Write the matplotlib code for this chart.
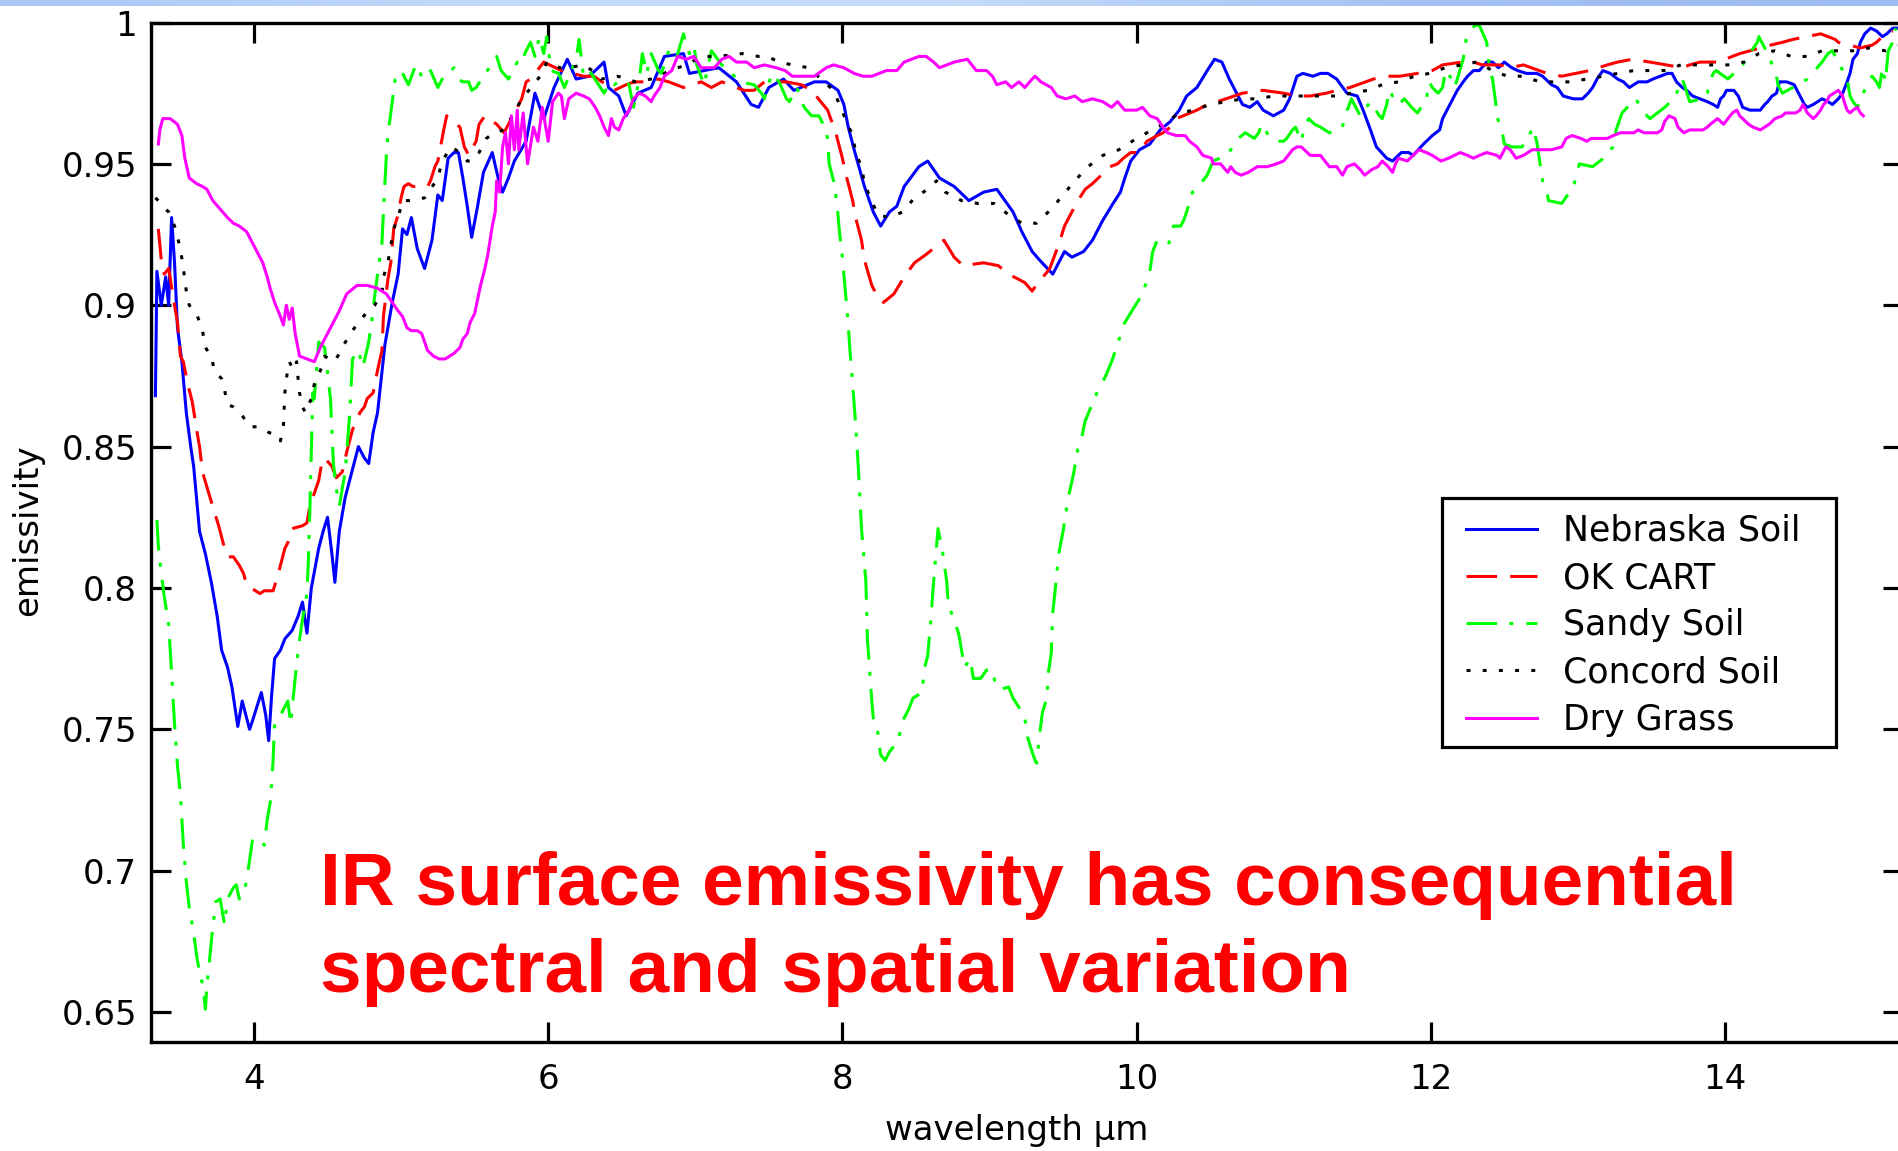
import numpy as np
import matplotlib
matplotlib.use("Agg")
import matplotlib.pyplot as plt
from matplotlib.colors import LinearSegmentedColormap
from matplotlib.patches import Rectangle

# emissivity spectra, (wavelength um, emissivity)
nebraska = [(3.33, 0.868), (3.34, 0.912), (3.37, 0.900), (3.40, 0.910), (3.42, 0.900), (3.44, 0.931),
            (3.46, 0.915), (3.48, 0.892), (3.51, 0.880), (3.54, 0.862), (3.57, 0.850), (3.59, 0.843),
            (3.63, 0.820), (3.67, 0.812), (3.71, 0.802), (3.75, 0.790), (3.78, 0.778), (3.82, 0.772),
            (3.85, 0.765), (3.89, 0.751), (3.92, 0.760), (3.94, 0.756), (3.97, 0.750), (3.99, 0.753),
            (4.02, 0.758), (4.05, 0.763), (4.08, 0.755), (4.10, 0.746), (4.12, 0.762), (4.14, 0.775),
            (4.18, 0.778), (4.21, 0.782), (4.26, 0.785), (4.30, 0.790), (4.33, 0.795), (4.36, 0.784),
            (4.39, 0.800), (4.44, 0.814), (4.47, 0.820), (4.50, 0.825), (4.53, 0.812), (4.55, 0.802),
            (4.58, 0.820), (4.62, 0.832), (4.66, 0.840), (4.71, 0.850), (4.75, 0.846), (4.78, 0.844),
            (4.81, 0.855), (4.84, 0.862), (4.89, 0.886), (4.94, 0.901), (4.98, 0.911), (5.01, 0.927),
            (5.04, 0.925), (5.07, 0.931), (5.11, 0.920), (5.16, 0.913), (5.21, 0.923), (5.25, 0.939),
            (5.28, 0.937), (5.32, 0.952), (5.36, 0.954), (5.39, 0.954), (5.42, 0.945), (5.45, 0.935),
            (5.48, 0.924), (5.52, 0.935), (5.56, 0.947), (5.62, 0.954), (5.66, 0.945), (5.69, 0.940),
            (5.73, 0.945), (5.77, 0.951), (5.85, 0.958), (5.91, 0.975), (5.97, 0.966), (6.04, 0.977),
            (6.13, 0.987), (6.19, 0.980), (6.28, 0.981), (6.38, 0.986), (6.41, 0.977), (6.48, 0.974),
            (6.53, 0.967), (6.61, 0.975), (6.70, 0.977), (6.79, 0.988), (6.92, 0.989), (6.96, 0.982),
            (7.06, 0.983), (7.16, 0.984), (7.28, 0.979), (7.38, 0.971), (7.43, 0.970), (7.50, 0.977),
            (7.60, 0.980), (7.67, 0.976), (7.81, 0.979), (7.89, 0.979), (7.97, 0.976), (8.01, 0.971),
            (8.04, 0.963), (8.08, 0.955), (8.15, 0.942), (8.21, 0.933), (8.26, 0.928), (8.32, 0.933),
            (8.37, 0.935), (8.42, 0.942), (8.52, 0.949), (8.58, 0.951), (8.66, 0.945), (8.76, 0.942),
            (8.86, 0.937), (8.96, 0.940), (9.05, 0.941), (9.16, 0.933), (9.22, 0.926), (9.29, 0.919),
            (9.34, 0.916), (9.43, 0.911), (9.51, 0.919), (9.56, 0.917), (9.64, 0.919), (9.70, 0.923),
            (9.77, 0.930), (9.84, 0.936), (9.89, 0.940), (9.92, 0.945), (9.96, 0.951), (10.02, 0.955),
            (10.09, 0.957), (10.16, 0.962), (10.23, 0.965), (10.29, 0.969), (10.34, 0.974), (10.41, 0.977),
            (10.48, 0.983), (10.53, 0.987), (10.58, 0.986), (10.63, 0.980), (10.67, 0.976), (10.72, 0.971),
            (10.77, 0.970), (10.82, 0.972), (10.86, 0.969), (10.93, 0.967), (11.00, 0.969), (11.04, 0.973),
            (11.09, 0.981), (11.13, 0.982), (11.20, 0.981), (11.25, 0.982), (11.30, 0.982), (11.36, 0.980),
            (11.43, 0.975), (11.50, 0.974), (11.54, 0.969), (11.59, 0.962), (11.63, 0.956), (11.70, 0.952),
            (11.74, 0.951), (11.80, 0.954), (11.85, 0.954), (11.88, 0.953), (11.95, 0.957), (12.01, 0.960),
            (12.06, 0.962), (12.08, 0.966), (12.12, 0.970), (12.18, 0.976), (12.22, 0.979), (12.25, 0.981),
            (12.29, 0.983), (12.33, 0.983), (12.38, 0.986), (12.42, 0.986), (12.46, 0.984), (12.50, 0.986),
            (12.55, 0.984), (12.59, 0.983), (12.65, 0.982), (12.72, 0.982), (12.76, 0.981), (12.80, 0.979),
            (12.82, 0.978), (12.86, 0.977), (12.90, 0.974), (12.97, 0.973), (13.03, 0.973), (13.07, 0.975),
            (13.10, 0.977), (13.13, 0.980), (13.17, 0.983), (13.22, 0.982), (13.27, 0.980), (13.31, 0.979),
            (13.35, 0.977), (13.41, 0.979), (13.47, 0.979), (13.51, 0.980), (13.56, 0.981), (13.61, 0.982),
            (13.64, 0.982), (13.67, 0.979), (13.71, 0.977), (13.74, 0.976), (13.78, 0.974), (13.83, 0.973),
            (13.88, 0.972), (13.92, 0.971), (13.95, 0.970), (13.97, 0.973), (13.99, 0.974), (14.01, 0.976),
            (14.06, 0.976), (14.09, 0.974), (14.12, 0.970), (14.17, 0.969), (14.24, 0.969), (14.27, 0.971),
            (14.29, 0.972), (14.32, 0.974), (14.35, 0.975), (14.37, 0.979), (14.42, 0.979), (14.47, 0.978),
            (14.50, 0.975), (14.52, 0.973), (14.54, 0.971), (14.56, 0.970), (14.60, 0.971), (14.63, 0.972),
            (14.66, 0.973), (14.70, 0.972), (14.73, 0.971), (14.77, 0.973), (14.80, 0.975), (14.83, 0.979),
            (14.85, 0.982), (14.87, 0.987), (14.90, 0.989), (14.92, 0.993), (14.95, 0.996), (14.99, 0.998),
            (15.03, 0.997), (15.07, 0.995), (15.10, 0.996), (15.14, 0.998), (15.17, 0.998)]

ok_cart = [(3.35, 0.927), (3.37, 0.916), (3.39, 0.911), (3.42, 0.913), (3.46, 0.900), (3.48, 0.894),
           (3.50, 0.882), (3.52, 0.880), (3.55, 0.872), (3.58, 0.866), (3.61, 0.856), (3.63, 0.850),
           (3.65, 0.841), (3.69, 0.834), (3.73, 0.827), (3.76, 0.822), (3.80, 0.814), (3.82, 0.811),
           (3.86, 0.811), (3.90, 0.808), (3.93, 0.805), (3.95, 0.801), (4.01, 0.799), (4.04, 0.798),
           (4.07, 0.799), (4.13, 0.799), (4.16, 0.804), (4.21, 0.814), (4.23, 0.816), (4.26, 0.821),
           (4.33, 0.822), (4.36, 0.823), (4.38, 0.829), (4.44, 0.838), (4.46, 0.844), (4.48, 0.846),
           (4.53, 0.843), (4.56, 0.839), (4.60, 0.841), (4.63, 0.848), (4.65, 0.852), (4.67, 0.856),
           (4.72, 0.862), (4.75, 0.864), (4.77, 0.867), (4.81, 0.869), (4.84, 0.877), (4.87, 0.884),
           (4.88, 0.896), (4.91, 0.909), (4.93, 0.915), (4.95, 0.927), (4.98, 0.932), (5.00, 0.938),
           (5.02, 0.942), (5.05, 0.943), (5.08, 0.942), (5.18, 0.942), (5.20, 0.944), (5.23, 0.949),
           (5.25, 0.951), (5.29, 0.962), (5.31, 0.967), (5.40, 0.963), (5.43, 0.956), (5.46, 0.953),
           (5.51, 0.958), (5.53, 0.964), (5.57, 0.967), (5.65, 0.964), (5.70, 0.961), (5.75, 0.966),
           (5.82, 0.973), (5.85, 0.979), (5.88, 0.980), (5.97, 0.986), (6.09, 0.983), (6.24, 0.981),
           (6.31, 0.981), (6.45, 0.976), (6.53, 0.978), (6.59, 0.979), (6.67, 0.979), (6.75, 0.980),
           (6.82, 0.979), (6.92, 0.977), (7.04, 0.979), (7.11, 0.977), (7.18, 0.979), (7.33, 0.976),
           (7.40, 0.976), (7.47, 0.979), (7.62, 0.979), (7.72, 0.978), (7.79, 0.976), (7.90, 0.969),
           (7.92, 0.966), (7.95, 0.962), (8.00, 0.952), (8.02, 0.947), (8.07, 0.937), (8.09, 0.931),
           (8.13, 0.923), (8.15, 0.916), (8.20, 0.907), (8.25, 0.902), (8.28, 0.901), (8.35, 0.904),
           (8.42, 0.910), (8.49, 0.915), (8.57, 0.918), (8.69, 0.923), (8.76, 0.917), (8.82, 0.914),
           (8.96, 0.915), (9.06, 0.914), (9.13, 0.911), (9.24, 0.908), (9.29, 0.905), (9.33, 0.908),
           (9.38, 0.911), (9.41, 0.913), (9.46, 0.920), (9.48, 0.923), (9.51, 0.928), (9.59, 0.936),
           (9.65, 0.941), (9.70, 0.943), (9.82, 0.949), (9.87, 0.950), (9.91, 0.952), (9.96, 0.954),
           (10.02, 0.954), (10.07, 0.958), (10.14, 0.960), (10.18, 0.961), (10.23, 0.963), (10.27, 0.966),
           (10.41, 0.969), (10.48, 0.971), (10.55, 0.972), (10.72, 0.975), (10.86, 0.976), (11.00, 0.975),
           (11.09, 0.974), (11.18, 0.974), (11.29, 0.975), (11.36, 0.976), (11.45, 0.977), (11.61, 0.980),
           (11.70, 0.981), (11.79, 0.981), (11.91, 0.982), (12.01, 0.983), (12.08, 0.985), (12.21, 0.986),
           (12.29, 0.986), (12.35, 0.985), (12.47, 0.985), (12.54, 0.984), (12.63, 0.985), (12.79, 0.982),
           (12.89, 0.981), (13.08, 0.983), (13.20, 0.985), (13.27, 0.986), (13.37, 0.987), (13.49, 0.986),
           (13.71, 0.984), (13.76, 0.985), (13.83, 0.986), (13.98, 0.986), (14.00, 0.987), (14.10, 0.989),
           (14.31, 0.992), (14.39, 0.993), (14.46, 0.994), (14.65, 0.996), (14.75, 0.994), (14.77, 0.993),
           (14.92, 0.991), (15.00, 0.992), (15.03, 0.993), (15.07, 0.995), (15.14, 0.997)]

sandy = [(3.34, 0.824), (3.35, 0.815), (3.37, 0.805), (3.39, 0.797), (3.42, 0.787), (3.44, 0.770),
         (3.46, 0.752), (3.48, 0.737), (3.50, 0.727), (3.52, 0.709), (3.54, 0.696), (3.56, 0.687),
         (3.59, 0.678), (3.61, 0.670), (3.63, 0.664), (3.65, 0.660), (3.67, 0.651), (3.68, 0.660),
         (3.69, 0.664), (3.71, 0.675), (3.74, 0.689), (3.77, 0.690), (3.80, 0.681), (3.82, 0.690),
         (3.86, 0.694), (3.88, 0.695), (3.90, 0.690), (3.94, 0.694), (3.96, 0.700), (3.99, 0.711),
         (4.04, 0.711), (4.07, 0.709), (4.09, 0.718), (4.11, 0.724), (4.12, 0.731), (4.13, 0.739),
         (4.14, 0.752), (4.18, 0.755), (4.23, 0.760), (4.25, 0.752), (4.28, 0.768), (4.30, 0.778),
         (4.33, 0.789), (4.36, 0.798), (4.37, 0.810), (4.38, 0.828), (4.39, 0.848), (4.40, 0.869),
         (4.41, 0.867), (4.44, 0.887), (4.48, 0.885), (4.52, 0.867), (4.54, 0.844), (4.56, 0.835),
         (4.58, 0.829), (4.62, 0.841), (4.65, 0.861), (4.67, 0.881), (4.71, 0.884), (4.74, 0.878),
         (4.78, 0.887), (4.80, 0.894), (4.82, 0.903), (4.84, 0.911), (4.87, 0.922), (4.88, 0.933),
         (4.89, 0.943), (4.90, 0.953), (4.91, 0.960), (4.93, 0.968), (4.96, 0.980), (5.00, 0.983),
         (5.05, 0.978), (5.10, 0.985), (5.15, 0.980), (5.20, 0.983), (5.25, 0.977), (5.29, 0.981),
         (5.36, 0.984), (5.39, 0.980), (5.42, 0.979), (5.46, 0.979), (5.48, 0.976), (5.51, 0.977),
         (5.56, 0.981), (5.60, 0.984), (5.65, 0.988), (5.68, 0.983), (5.73, 0.980), (5.79, 0.986),
         (5.81, 0.985), (5.85, 0.990), (5.88, 0.993), (5.91, 0.988), (5.94, 0.995), (5.97, 0.989),
         (5.99, 0.995), (6.02, 0.983), (6.07, 0.982), (6.11, 0.977), (6.19, 0.987), (6.21, 0.994),
         (6.24, 0.981), (6.28, 0.983), (6.38, 0.975), (6.42, 0.979), (6.45, 0.978), (6.50, 0.980),
         (6.55, 0.978), (6.58, 0.970), (6.62, 0.980), (6.64, 0.989), (6.67, 0.982), (6.70, 0.989),
         (6.75, 0.983), (6.77, 0.982), (6.82, 0.990), (6.87, 0.987), (6.92, 0.996), (6.94, 0.992),
         (6.96, 0.989), (6.99, 0.992), (7.01, 0.985), (7.06, 0.978), (7.11, 0.990), (7.18, 0.985),
         (7.23, 0.983), (7.30, 0.979), (7.40, 0.978), (7.45, 0.975), (7.47, 0.973), (7.52, 0.982),
         (7.57, 0.979), (7.62, 0.973), (7.64, 0.972), (7.69, 0.977), (7.74, 0.970), (7.79, 0.967),
         (7.84, 0.967), (7.87, 0.964), (7.90, 0.959), (7.91, 0.950), (7.94, 0.944), (7.96, 0.937),
         (7.97, 0.932), (7.98, 0.926), (8.00, 0.917), (8.02, 0.905), (8.04, 0.893), (8.05, 0.885),
         (8.07, 0.872), (8.09, 0.858), (8.11, 0.841), (8.13, 0.821), (8.16, 0.802), (8.17, 0.782),
         (8.20, 0.760), (8.21, 0.754), (8.24, 0.749), (8.26, 0.741), (8.29, 0.739), (8.32, 0.742),
         (8.38, 0.746), (8.41, 0.753), (8.45, 0.757), (8.48, 0.761), (8.54, 0.763), (8.56, 0.772),
         (8.58, 0.776), (8.60, 0.788), (8.62, 0.802), (8.65, 0.821), (8.68, 0.813), (8.71, 0.802),
         (8.72, 0.794), (8.75, 0.790), (8.79, 0.784), (8.82, 0.775), (8.83, 0.772), (8.87, 0.775),
         (8.89, 0.768), (8.94, 0.768), (8.98, 0.771), (9.02, 0.771), (9.04, 0.766), (9.07, 0.764),
         (9.13, 0.765), (9.16, 0.761), (9.21, 0.757), (9.24, 0.754), (9.26, 0.747), (9.29, 0.742),
         (9.31, 0.739), (9.32, 0.738), (9.34, 0.748), (9.36, 0.756), (9.39, 0.761), (9.40, 0.770),
         (9.42, 0.777), (9.43, 0.791), (9.45, 0.801), (9.47, 0.812), (9.50, 0.820), (9.52, 0.827),
         (9.54, 0.833), (9.57, 0.840), (9.60, 0.849), (9.63, 0.854), (9.65, 0.859), (9.69, 0.864),
         (9.73, 0.869), (9.79, 0.875), (9.83, 0.880), (9.87, 0.886), (9.91, 0.893), (9.98, 0.899),
         (10.04, 0.904), (10.09, 0.912), (10.11, 0.919), (10.14, 0.923), (10.18, 0.922), (10.22, 0.922),
         (10.25, 0.928), (10.30, 0.928), (10.32, 0.930), (10.34, 0.933), (10.38, 0.940), (10.43, 0.942),
         (10.45, 0.944), (10.48, 0.946), (10.52, 0.951), (10.61, 0.953), (10.67, 0.957), (10.69, 0.959),
         (10.74, 0.961), (10.80, 0.959), (10.83, 0.961), (10.85, 0.964), (10.91, 0.959), (10.95, 0.958),
         (11.00, 0.958), (11.02, 0.959), (11.06, 0.962), (11.08, 0.963), (11.12, 0.958), (11.14, 0.963),
         (11.17, 0.966), (11.21, 0.964), (11.25, 0.963), (11.28, 0.962), (11.31, 0.961), (11.40, 0.963),
         (11.42, 0.968), (11.44, 0.970), (11.46, 0.973), (11.50, 0.969), (11.52, 0.967), (11.59, 0.972),
         (11.65, 0.967), (11.67, 0.966), (11.70, 0.971), (11.72, 0.976), (11.77, 0.971), (11.80, 0.972),
         (11.82, 0.973), (11.87, 0.970), (11.91, 0.968), (11.97, 0.973), (11.99, 0.979), (12.01, 0.977),
         (12.05, 0.975), (12.08, 0.977), (12.10, 0.983), (12.12, 0.982), (12.14, 0.980), (12.16, 0.977),
         (12.18, 0.980), (12.22, 0.987), (12.24, 0.994), (12.27, 0.997), (12.30, 0.999), (12.33, 0.999),
         (12.38, 0.993), (12.40, 0.983), (12.42, 0.980), (12.44, 0.972), (12.45, 0.967), (12.47, 0.963),
         (12.49, 0.960), (12.50, 0.957), (12.55, 0.956), (12.62, 0.956), (12.67, 0.960), (12.69, 0.963),
         (12.72, 0.958), (12.74, 0.951), (12.76, 0.944), (12.79, 0.940), (12.80, 0.937), (12.89, 0.936),
         (12.97, 0.942), (12.99, 0.946), (13.01, 0.950), (13.10, 0.949), (13.20, 0.953), (13.22, 0.955),
         (13.24, 0.956), (13.26, 0.962), (13.30, 0.968), (13.39, 0.973), (13.42, 0.971), (13.44, 0.969),
         (13.47, 0.967), (13.49, 0.966), (13.59, 0.970), (13.65, 0.973), (13.68, 0.976), (13.71, 0.980),
         (13.73, 0.977), (13.76, 0.972), (13.85, 0.973), (13.88, 0.975), (13.89, 0.978), (13.92, 0.982),
         (13.94, 0.983), (14.02, 0.980), (14.12, 0.985), (14.15, 0.988), (14.18, 0.990), (14.22, 0.993),
         (14.23, 0.995), (14.30, 0.988), (14.35, 0.981), (14.36, 0.978), (14.39, 0.975), (14.46, 0.977),
         (14.56, 0.980), (14.66, 0.986), (14.70, 0.989), (14.73, 0.990), (14.75, 0.988), (14.77, 0.986),
         (14.83, 0.980), (14.85, 0.974), (14.87, 0.972), (14.90, 0.970), (14.92, 0.972), (14.97, 0.979),
         (15.00, 0.981), (15.03, 0.979), (15.05, 0.977), (15.07, 0.984), (15.09, 0.979), (15.11, 0.990),
         (15.14, 0.993), (15.16, 0.998)]

concord = [(3.33, 0.938), (3.35, 0.937), (3.38, 0.935), (3.42, 0.933), (3.46, 0.928), (3.48, 0.924),
           (3.50, 0.920), (3.52, 0.913), (3.54, 0.905), (3.56, 0.900), (3.61, 0.897), (3.65, 0.891),
           (3.67, 0.885), (3.71, 0.882), (3.73, 0.877), (3.78, 0.874), (3.80, 0.870), (3.82, 0.865),
           (3.86, 0.864), (3.92, 0.861), (3.97, 0.857), (4.03, 0.857), (4.10, 0.855), (4.16, 0.854),
           (4.18, 0.852), (4.20, 0.857), (4.21, 0.869), (4.22, 0.874), (4.24, 0.880), (4.27, 0.877),
           (4.29, 0.880), (4.30, 0.874), (4.31, 0.869), (4.33, 0.864), (4.35, 0.862), (4.39, 0.867),
           (4.41, 0.872), (4.46, 0.878), (4.48, 0.882), (4.54, 0.880), (4.57, 0.882), (4.61, 0.886),
           (4.67, 0.891), (4.71, 0.894), (4.76, 0.897), (4.82, 0.900), (4.87, 0.904), (4.88, 0.910),
           (4.91, 0.915), (4.93, 0.921), (4.95, 0.927), (4.98, 0.931), (5.01, 0.937), (5.08, 0.937),
           (5.16, 0.938), (5.20, 0.941), (5.25, 0.945), (5.28, 0.951), (5.34, 0.956), (5.40, 0.954),
           (5.45, 0.951), (5.48, 0.951), (5.53, 0.954), (5.58, 0.959), (5.63, 0.961), (5.70, 0.962),
           (5.79, 0.970), (5.82, 0.973), (5.90, 0.978), (5.96, 0.982), (5.99, 0.986), (6.08, 0.984),
           (6.14, 0.984), (6.24, 0.985), (6.30, 0.983), (6.36, 0.980), (6.47, 0.981), (6.55, 0.980),
           (6.59, 0.979), (6.70, 0.980), (6.76, 0.981), (6.82, 0.983), (6.94, 0.985), (7.04, 0.988),
           (7.15, 0.988), (7.32, 0.989), (7.43, 0.988), (7.49, 0.988), (7.57, 0.986), (7.66, 0.985),
           (7.77, 0.984), (7.94, 0.976), (7.98, 0.971), (8.02, 0.966), (8.07, 0.960), (8.09, 0.954),
           (8.13, 0.949), (8.15, 0.943), (8.19, 0.938), (8.24, 0.932), (8.32, 0.931), (8.41, 0.933),
           (8.49, 0.938), (8.58, 0.941), (8.64, 0.944), (8.70, 0.940), (8.81, 0.937), (8.92, 0.936),
           (9.03, 0.936), (9.13, 0.932), (9.22, 0.929), (9.32, 0.929), (9.42, 0.934), (9.50, 0.939),
           (9.58, 0.944), (9.67, 0.949), (9.77, 0.953), (9.88, 0.955), (9.97, 0.958), (10.07, 0.961),
           (10.18, 0.964), (10.29, 0.968), (10.39, 0.969), (10.50, 0.971), (10.61, 0.972), (10.72, 0.973),
           (10.82, 0.973), (10.93, 0.974), (11.03, 0.974), (11.14, 0.974), (11.25, 0.974), (11.36, 0.974),
           (11.46, 0.975), (11.57, 0.976), (11.67, 0.978), (11.78, 0.979), (11.89, 0.981), (11.99, 0.982),
           (12.10, 0.984), (12.21, 0.985), (12.31, 0.986), (12.42, 0.983), (12.52, 0.981), (12.63, 0.981),
           (12.74, 0.979), (12.84, 0.979), (12.95, 0.979), (13.06, 0.980), (13.17, 0.981), (13.27, 0.982),
           (13.38, 0.983), (13.48, 0.983), (13.59, 0.983), (13.70, 0.985), (13.81, 0.985), (13.91, 0.985),
           (14.02, 0.985), (14.13, 0.986), (14.23, 0.989), (14.34, 0.990), (14.45, 0.988), (14.56, 0.988),
           (14.66, 0.990), (14.77, 0.990), (14.87, 0.990), (14.98, 0.991), (15.09, 0.990), (15.17, 0.992)]

dry_grass = [(3.35, 0.957), (3.36, 0.962), (3.38, 0.966), (3.43, 0.966), (3.48, 0.964), (3.51, 0.960),
             (3.53, 0.952), (3.56, 0.945), (3.61, 0.943), (3.65, 0.942), (3.68, 0.941), (3.72, 0.937),
             (3.77, 0.934), (3.82, 0.931), (3.86, 0.929), (3.90, 0.928), (3.95, 0.926), (3.99, 0.922),
             (4.02, 0.919), (4.06, 0.915), (4.09, 0.910), (4.11, 0.906), (4.14, 0.901), (4.18, 0.896),
             (4.20, 0.893), (4.22, 0.900), (4.24, 0.895), (4.26, 0.899), (4.28, 0.890), (4.31, 0.882),
             (4.36, 0.881), (4.41, 0.880), (4.45, 0.885), (4.50, 0.890), (4.54, 0.894), (4.58, 0.898),
             (4.63, 0.904), (4.70, 0.907), (4.77, 0.907), (4.84, 0.906), (4.90, 0.904), (4.94, 0.901),
             (4.98, 0.898), (5.01, 0.896), (5.04, 0.892), (5.07, 0.891), (5.11, 0.891), (5.14, 0.890),
             (5.16, 0.887), (5.18, 0.884), (5.22, 0.882), (5.26, 0.881), (5.30, 0.881), (5.36, 0.883),
             (5.40, 0.885), (5.42, 0.888), (5.45, 0.890), (5.47, 0.894), (5.50, 0.897), (5.52, 0.902),
             (5.54, 0.907), (5.57, 0.913), (5.59, 0.918), (5.62, 0.928), (5.64, 0.933), (5.65, 0.944),
             (5.67, 0.940), (5.69, 0.956), (5.71, 0.961), (5.73, 0.950), (5.75, 0.967), (5.77, 0.955),
             (5.79, 0.969), (5.80, 0.955), (5.83, 0.968), (5.86, 0.950), (5.90, 0.963), (5.93, 0.958),
             (5.96, 0.970), (6.00, 0.958), (6.03, 0.972), (6.07, 0.975),
             (6.09, 0.974), (6.11, 0.966), (6.14, 0.973), (6.19, 0.975), (6.24, 0.974),
             (6.28, 0.973), (6.32, 0.970), (6.35, 0.967), (6.38, 0.963), (6.41, 0.960), (6.43, 0.966),
             (6.45, 0.963), (6.48, 0.962), (6.51, 0.966), (6.55, 0.969), (6.58, 0.973), (6.62, 0.975),
             (6.66, 0.974), (6.70, 0.972), (6.72, 0.974), (6.76, 0.977), (6.79, 0.981), (6.84, 0.983),
             (6.88, 0.988), (6.94, 0.987), (6.99, 0.988), (7.04, 0.984), (7.09, 0.984), (7.13, 0.984),
             (7.18, 0.987), (7.23, 0.988), (7.28, 0.986), (7.35, 0.986), (7.40, 0.984), (7.47, 0.985),
             (7.55, 0.984), (7.61, 0.983), (7.66, 0.981), (7.72, 0.981), (7.81, 0.981), (7.89, 0.984),
             (7.94, 0.985), (8.01, 0.984), (8.08, 0.982), (8.14, 0.981), (8.20, 0.981), (8.30, 0.983),
             (8.37, 0.983), (8.42, 0.986), (8.52, 0.988), (8.57, 0.988), (8.62, 0.986), (8.66, 0.984),
             (8.76, 0.986), (8.85, 0.987), (8.91, 0.983), (8.98, 0.983), (9.02, 0.981), (9.05, 0.978),
             (9.11, 0.979), (9.15, 0.977), (9.20, 0.979), (9.24, 0.977), (9.29, 0.980), (9.31, 0.981),
             (9.35, 0.979), (9.42, 0.977), (9.46, 0.974), (9.52, 0.973), (9.58, 0.974), (9.63, 0.972),
             (9.70, 0.973), (9.77, 0.972), (9.83, 0.970), (9.87, 0.972), (9.92, 0.969), (10.00, 0.969),
             (10.04, 0.970), (10.09, 0.967), (10.14, 0.966), (10.18, 0.963), (10.21, 0.961), (10.27, 0.960),
             (10.33, 0.960), (10.36, 0.958), (10.41, 0.956), (10.45, 0.953), (10.51, 0.952), (10.52, 0.950),
             (10.57, 0.950), (10.62, 0.947), (10.64, 0.949), (10.67, 0.947), (10.71, 0.946), (10.76, 0.947),
             (10.82, 0.949), (10.89, 0.949), (10.95, 0.950), (11.00, 0.951), (11.03, 0.953), (11.06, 0.955),
             (11.09, 0.956), (11.12, 0.956), (11.14, 0.955), (11.18, 0.953), (11.25, 0.953), (11.28, 0.951),
             (11.31, 0.949), (11.36, 0.949), (11.40, 0.946), (11.43, 0.949), (11.48, 0.950), (11.52, 0.948),
             (11.55, 0.946), (11.60, 0.948), (11.64, 0.949), (11.67, 0.951), (11.71, 0.949), (11.74, 0.947),
             (11.76, 0.950), (11.78, 0.952), (11.84, 0.951), (11.88, 0.953), (11.92, 0.955), (11.97, 0.954),
             (12.01, 0.953), (12.07, 0.951), (12.12, 0.952), (12.20, 0.954), (12.25, 0.953), (12.29, 0.952),
             (12.33, 0.953), (12.38, 0.954), (12.45, 0.953), (12.47, 0.952), (12.51, 0.956), (12.54, 0.955),
             (12.58, 0.952), (12.63, 0.953), (12.69, 0.955), (12.82, 0.955), (12.89, 0.956), (12.92, 0.959),
             (12.96, 0.960), (13.02, 0.959), (13.06, 0.958), (13.09, 0.959), (13.20, 0.959), (13.24, 0.960),
             (13.29, 0.961), (13.38, 0.961), (13.41, 0.962), (13.45, 0.961), (13.54, 0.961), (13.57, 0.962),
             (13.59, 0.965), (13.62, 0.967), (13.66, 0.966), (13.68, 0.963), (13.72, 0.961), (13.76, 0.962),
             (13.85, 0.962), (13.88, 0.963), (13.90, 0.964), (13.95, 0.966), (13.99, 0.964), (14.02, 0.966),
             (14.05, 0.968), (14.08, 0.969), (14.10, 0.967), (14.12, 0.966), (14.16, 0.964), (14.19, 0.963),
             (14.24, 0.962), (14.30, 0.964), (14.34, 0.966), (14.39, 0.967), (14.41, 0.968), (14.48, 0.968),
             (14.51, 0.969), (14.53, 0.971), (14.56, 0.968), (14.58, 0.967), (14.60, 0.966), (14.62, 0.967),
             (14.65, 0.969), (14.67, 0.971), (14.69, 0.972), (14.71, 0.974), (14.74, 0.975), (14.77, 0.976),
             (14.80, 0.974), (14.81, 0.972), (14.83, 0.969), (14.85, 0.968), (14.87, 0.969), (14.90, 0.970),
             (14.92, 0.968), (14.94, 0.967)]

series_names = ["Nebraska Soil", "OK CART", "Sandy Soil", "Concord Soil", "Dry Grass"]
x_ticks = [4, 6, 8, 10, 12, 14]
y_ticks = [0.65, 0.7, 0.75, 0.8, 0.85, 0.9, 0.95, 1.0]
y_tick_labels = ["0.65", "0.7", "0.75", "0.8", "0.85", "0.9", "0.95", "1"]

W, H = 1899, 1151
fig = plt.figure(figsize=(W / 100, H / 100), dpi=100)
fig.patch.set_facecolor("white")

# thin blue band across the top of the slide
band = fig.add_axes([0, 1 - 6 / H, 1, 6 / H])
band_cmap = LinearSegmentedColormap.from_list(
    "band", ["#a9c6f6", "#c3d9fb", "#c6dbfa", "#a3c1f3", "#9cbbf0"])
band.imshow(np.linspace(0, 1, 256)[None, :], aspect="auto", cmap=band_cmap)
band.axis("off")

ax = fig.add_axes([151 / W, 109 / H, 1752 / W, 1019.5 / H])

styles = [
    dict(color="#0000ff", linestyle="-"),
    dict(color="#ff0000", linestyle=(0, (10, 4.3))),
    dict(color="#00ff00", linestyle=(0, (10, 4, 1.3, 4.3))),
    dict(color="black", linestyle=(0, (1.3, 4))),
    dict(color="#ff00ff", linestyle="-"),
]
for data, name, st in zip([nebraska, ok_cart, sandy, concord, dry_grass], series_names, styles):
    wl, em = zip(*data)
    ax.plot(wl, em, lw=2.2, label=name, **st)

ax.set_xlim(3.30, 15.21)
ax.set_ylim(0.6394, 1.0)
ax.set_xticks(x_ticks)
ax.set_yticks(y_ticks)
ax.set_yticklabels(y_tick_labels)
ax.tick_params(direction="in", length=14.5, width=2.3, top=True, right=True,
               labelsize=24.5, colors="black")
ax.tick_params(axis="x", pad=15)
ax.tick_params(axis="y", pad=10)
for sp in ax.spines.values():
    sp.set_linewidth(2.4)

ax.set_xlabel("wavelength \u03bcm", fontsize=24.5)
ax.xaxis.set_label_coords(0.494, -0.071)
ax.xaxis.label.set_va("top")
ax.set_ylabel("emissivity", fontsize=24.5)
ax.yaxis.set_label_coords(-0.061, 0.502)

# legend box drawn separately so its size matches the original
ax.add_patch(Rectangle((1442 / W, 1 - 747 / H), (1836 - 1442) / W, (747 - 498) / H,
                       transform=fig.transFigure, facecolor="white", edgecolor="black",
                       linewidth=2.3, zorder=4.5, clip_on=False))
leg = ax.legend(loc="upper left", bbox_to_anchor=(1466 / W, 1 - 514 / H),
                bbox_transform=fig.transFigure, borderaxespad=0, borderpad=0, fontsize=25,
                handlelength=2.05, handletextpad=0.75, labelspacing=0.38, frameon=False)
leg.set_zorder(5)

fig.text(320 / W, 1 - 905 / H, "IR surface emissivity has consequential",
         color="#ff0000", fontsize=53.8, fontweight="bold", family="Liberation Sans",
         ha="left", va="baseline")
fig.text(320 / W, 1 - 992 / H, "spectral and spatial variation",
         color="#ff0000", fontsize=53.8, fontweight="bold", family="Liberation Sans",
         ha="left", va="baseline")

fig.savefig("out.png", dpi=100)
